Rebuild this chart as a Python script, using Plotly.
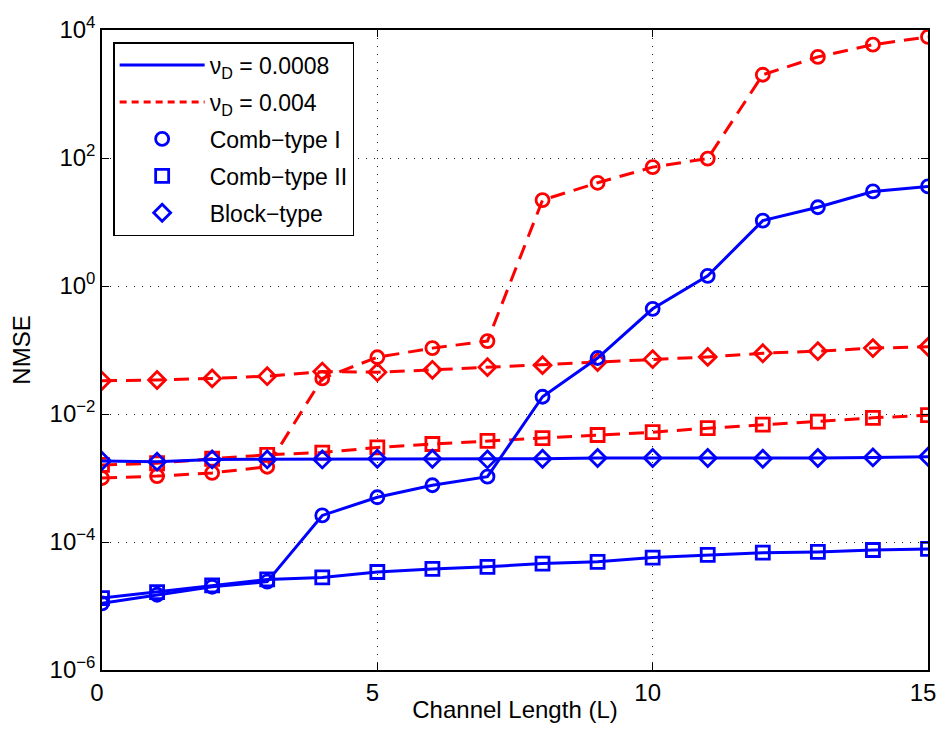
import plotly.graph_objects as go

L = list(range(16))

# nu_D = 0.0008 (blue, solid)
comb1_slow = [1.1e-5, 1.5e-5, 2.0e-5, 2.4e-5, 2.6e-4, 5.0e-4, 7.7e-4, 1.05e-3,
              0.0186, 0.075, 0.44, 1.44, 10.5, 17, 30, 36]
comb2_slow = [1.33e-5, 1.65e-5, 2.1e-5, 2.6e-5, 2.8e-5, 3.4e-5, 3.8e-5, 4.1e-5,
              4.6e-5, 4.9e-5, 5.7e-5, 6.3e-5, 6.8e-5, 7.0e-5, 7.5e-5, 7.8e-5]
block_slow = [1.85e-3, 1.8e-3, 1.95e-3, 1.95e-3, 1.95e-3, 2.0e-3, 2.0e-3, 1.95e-3,
              2.0e-3, 2.05e-3, 2.05e-3, 2.05e-3, 2.0e-3, 2.05e-3, 2.1e-3, 2.15e-3]

# nu_D = 0.004 (red, dashed)
comb1_fast = [1.0e-3, 1.07e-3, 1.2e-3, 1.5e-3, 0.036, 0.077, 0.107, 0.138,
              22, 41, 72, 98, 2000, 3800, 5900, 7800]
comb2_fast = [1.6e-3, 1.7e-3, 2.0e-3, 2.3e-3, 2.5e-3, 3.0e-3, 3.4e-3, 3.8e-3,
              4.2e-3, 4.7e-3, 5.2e-3, 6.0e-3, 6.8e-3, 7.6e-3, 8.7e-3, 9.6e-3]
block_fast = [0.033, 0.034, 0.036, 0.039, 0.046, 0.045, 0.049, 0.054,
              0.058, 0.065, 0.072, 0.078, 0.089, 0.096, 0.107, 0.112]

legend_labels = ["ν<sub>D</sub> = 0.0008", "ν<sub>D</sub> = 0.004",
                 "Comb−type I", "Comb−type II", "Block−type"]
x_ticks = [0, 5, 10, 15]
y_ticks = [1e-6, 1e-4, 1e-2, 1, 1e2, 1e4]
y_ticktext = ["10<sup>−6</sup>", "10<sup>−4</sup>", "10<sup>−2</sup>",
              "10<sup>0</sup>", "10<sup>2</sup>", "10<sup>4</sup>"]

BLUE = "#0000ff"
RED = "#ff0000"
DASH = "15px,9px"
LW = 3
MS = 13
FONT = "Liberation Sans, Arial, sans-serif"

fig = go.Figure()

series = [
    (block_fast, RED, DASH, "diamond-open"),
    (comb2_fast, RED, DASH, "square-open"),
    (comb1_fast, RED, DASH, "circle-open"),
    (block_slow, BLUE, "solid", "diamond-open"),
    (comb2_slow, BLUE, "solid", "square-open"),
    (comb1_slow, BLUE, "solid", "circle-open"),
]
for ys, col, dash, sym in series:
    fig.add_trace(go.Scatter(
        x=L, y=ys, mode="lines+markers", showlegend=False,
        line=dict(color=col, width=LW, dash=dash),
        marker=dict(symbol=sym, size=MS, color=col, line=dict(width=2.8, color=col)),
    ))

# legend-only entries
fig.add_trace(go.Scatter(x=[None], y=[None], mode="lines", name=legend_labels[0],
                         legendgroup="a", line=dict(color=BLUE, width=LW)))
fig.add_trace(go.Scatter(x=[None], y=[None], mode="lines", name=legend_labels[1],
                         legendgroup="b", line=dict(color=RED, width=LW, dash="7px,5px")))
for i, (lab, sym) in enumerate(zip(legend_labels[2:], ["circle-open", "square-open", "diamond-open"])):
    fig.add_trace(go.Scatter(x=[None], y=[None], mode="markers", name=lab,
                             legendgroup="g%d" % i,
                             marker=dict(symbol=sym, size=MS, color=BLUE,
                                         line=dict(width=2.8, color=BLUE))))

axis_common = dict(
    showline=True, linecolor="black", linewidth=1.5, mirror="ticks",
    ticks="inside", ticklen=7, tickcolor="black", tickwidth=1,
    showgrid=True, gridcolor="#222222", griddash="1px,7px", gridwidth=1,
    zeroline=False, automargin=False, ticklabeloverflow="allow",
    tickfont=dict(family=FONT, size=24, color="black"),
)

fig.update_xaxes(range=[0, 15], tickvals=x_ticks, ticklabelshift=-5,
                 title=dict(text="Channel Length (L)", standoff=4,
                            font=dict(family=FONT, size=24, color="black")),
                 **axis_common)
fig.update_yaxes(type="log", range=[-6, 4], tickvals=y_ticks, ticktext=y_ticktext,
                 title=dict(text="NMSE", standoff=12,
                            font=dict(family=FONT, size=24, color="black")),
                 **axis_common)

# the page body adds an 8px offset, so the figure is sized to fit the window
fig.update_layout(
    width=937, height=715,
    margin=dict(l=94, r=17, t=22, b=53),
    paper_bgcolor="white", plot_bgcolor="white",
    font=dict(family=FONT, color="black"),
    legend=dict(x=0.0135, y=0.981, xanchor="left", yanchor="top",
                bgcolor="white", bordercolor="black", borderwidth=1.5,
                font=dict(family=FONT, size=23, color="black"),
                tracegroupgap=4, itemwidth=85),
)

fig.write_html("out.html")
